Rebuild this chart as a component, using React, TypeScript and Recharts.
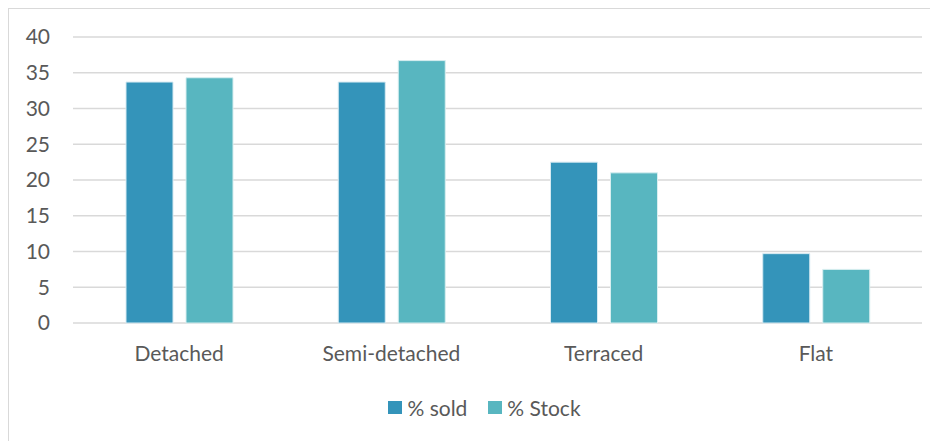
import React from 'react';
import { BarChart, Bar, XAxis, YAxis, CartesianGrid, Legend } from 'recharts';

const categories = ['Detached', 'Semi-detached', 'Terraced', 'Flat'];
const soldValues = [33.7, 33.7, 22.5, 9.7];
const stockValues = [34.3, 36.7, 21.0, 7.5];
const yTicks = [0, 5, 10, 15, 20, 25, 30, 35, 40];
const seriesOrder = ['sold', 'stock'];

const chartData = categories.map((name, i) => ({
  name,
  sold: soldValues[i],
  stock: stockValues[i],
}));

const FONT = 'Lato, "Open Sans", sans-serif';
const TEXT = '#595959';

const renderLegend = (props: any) => {
  const items = [...(props.payload || [])].sort(
    (a: any, b: any) => seriesOrder.indexOf(a.dataKey) - seriesOrder.indexOf(b.dataKey)
  );
  return (
    <div style={{ display: 'flex', justifyContent: 'center', paddingLeft: 22, fontFamily: FONT, fontSize: 21, color: TEXT }}>
      {items.map((entry: any, idx: number) => (
        <div key={entry.value} style={{ display: 'flex', alignItems: 'center', marginLeft: idx === 0 ? 0 : 21 }}>
          <span style={{ display: 'inline-block', width: 14, height: 13, background: entry.color, marginRight: 5 }} />
          <span>{entry.value}</span>
        </div>
      ))}
    </div>
  );
};

export default function App() {
  return (
    <div style={{ width: 930, height: 433, borderTop: '1px solid #D9D9D9', borderLeft: '1px solid #D9D9D9', boxSizing: 'border-box', background: '#fff' }}>
      <BarChart
        width={929}
        height={432}
        data={chartData}
        margin={{ top: 28, right: 16, left: 0, bottom: 0 }}
        barGap={13}
        barSize={47}
      >
        <CartesianGrid vertical={false} stroke="#D9D9D9" strokeWidth={1.5} />
        <XAxis
          dataKey="name"
          axisLine={false}
          tickLine={false}
          tickSize={0}
          tickMargin={23}
          height={93}
          tick={{ fill: TEXT, fontSize: 21, fontFamily: FONT }}
        />
        <YAxis
          domain={[0, 40]}
          ticks={yTicks}
          width={64}
          axisLine={false}
          tickLine={false}
          tickSize={0}
          tickMargin={23}
          tick={{ fill: TEXT, fontSize: 21, fontFamily: FONT }}
        />
        <Legend
          content={renderLegend}
          wrapperStyle={{ top: 386, left: 0, width: 929 }}
        />
        <Bar dataKey="sold" name="% sold" fill="#3494BA" stroke="#D6EAF2" strokeWidth={1} isAnimationActive={false} />
        <Bar dataKey="stock" name="% Stock" fill="#58B6C0" stroke="#D8EEF0" strokeWidth={1} isAnimationActive={false} />
      </BarChart>
    </div>
  );
}
